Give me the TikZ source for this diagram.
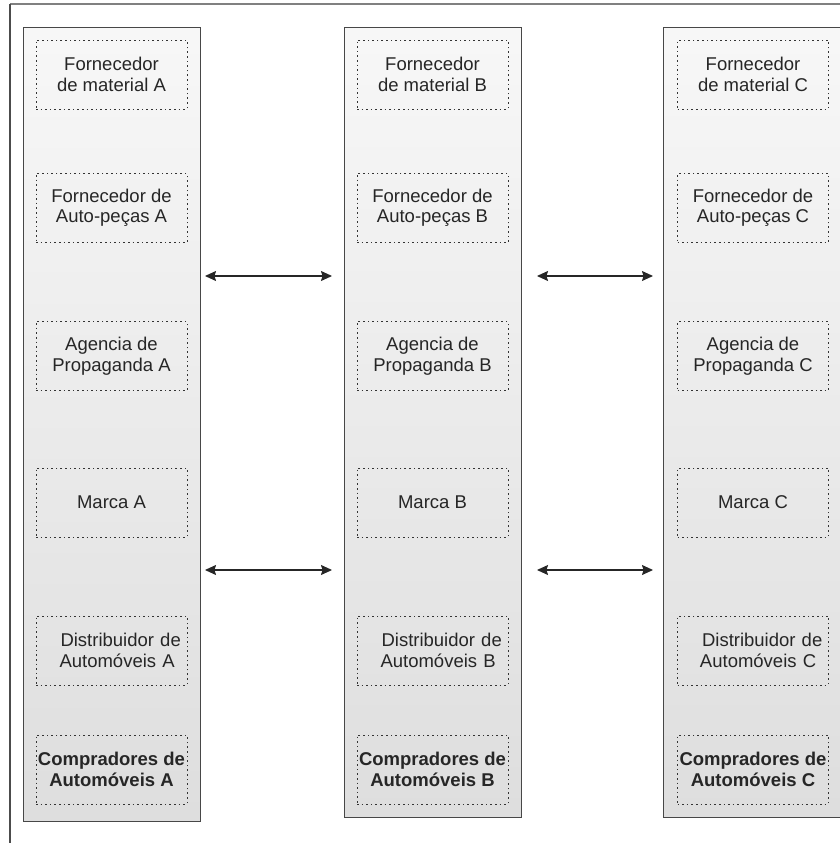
\documentclass[tikz,border=0pt]{standalone}
\usepackage{fontspec}
\setmainfont{Liberation Sans}
\usetikzlibrary{arrows.meta}
\definecolor{txt}{HTML}{262626}
\definecolor{colborder}{HTML}{474747}
\begin{document}
\begin{tikzpicture}[x=1pt,y=-1pt,
  column/.style={draw=colborder, line width=1.3pt, top color=black!3, bottom color=black!13, anchor=north west, inner sep=0pt},
  cell/.style={draw=black!80, line width=0.9pt, dash pattern=on 1.6pt off 3pt, minimum width=151pt, minimum height=69pt, inner sep=0pt, align=center, text=txt, font=\fontsize{18.5}{20.5}\selectfont},
  boldcell/.style={cell, font=\fontsize{18.5}{20.5}\selectfont\bfseries},
  link/.style={{Stealth[length=11pt,width=10pt,inset=1.5pt]}-{Stealth[length=11pt,width=10pt,inset=1.5pt]}, line width=1.2pt, draw=black!85}
]
\useasboundingbox (0,0) rectangle (840,843);
\clip (0,0) rectangle (840,843);
% outer frame
\draw[line width=1.3pt, draw=black!50] (10,4) -- (842,4);
\draw[line width=1.3pt, draw=black!70] (10,4) -- (10,845);
% columns
\node[column, minimum width=177pt, minimum height=794pt] (colA) at (23,27) {};
\node[column, minimum width=177pt, minimum height=790pt] (colB) at (344,27) {};
\node[column, minimum width=180pt, minimum height=790pt] (colC) at (663,27) {};
% cells
\foreach \c/\x in {A/111.5, B/432.5, C/753} {
  \node[cell] (f\c) at (\x,74.5) {Fornecedor\\de material \c};
  \node[cell] (p\c) at (\x,208) {Fornecedor de\\Auto-peças \c};
  \node[cell] (g\c) at (\x,356) {Agencia de\\Propaganda \c};
  \node[cell] (m\c) at (\x,502.5) {Marca \c};
  \node[cell, text width=151pt, align=right] (d\c) at (\x,650.5) {Distribuidor de~~\\Automóveis \c~~~};
  \node[boldcell] (k\c) at (\x,769.5) {Compradores de\\Automóveis \c};
}
% arrows
\coordinate (a1) at (205,276);
\coordinate (a2) at (332,276);
\coordinate (a3) at (537,276);
\coordinate (a4) at (653,276);
\coordinate (b1) at (205,570);
\coordinate (b2) at (332,570);
\coordinate (b3) at (537,570);
\coordinate (b4) at (653,570);
\draw[link] (a1) -- (a2);
\draw[link] (a3) -- (a4);
\draw[link] (b1) -- (b2);
\draw[link] (b3) -- (b4);
\end{tikzpicture}
\end{document}
